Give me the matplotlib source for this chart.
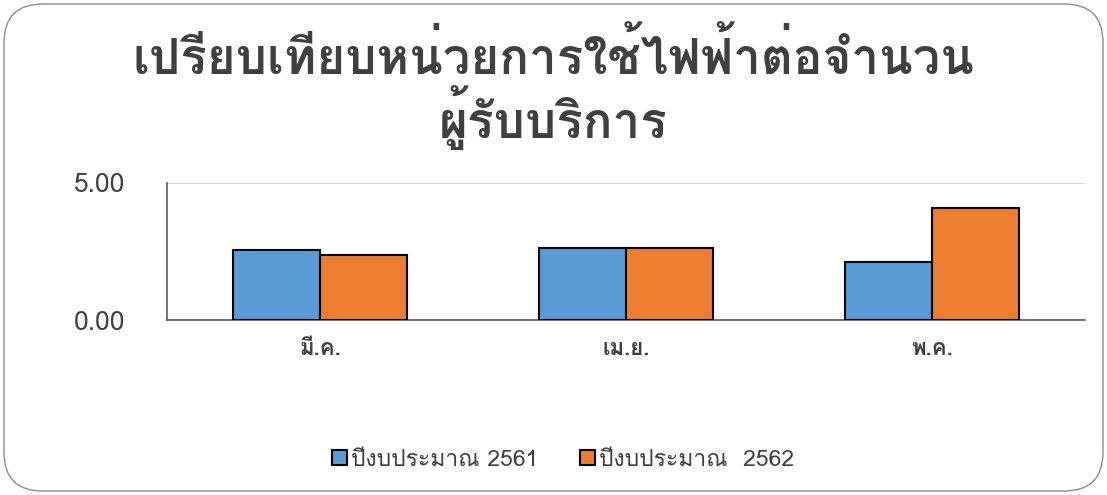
import matplotlib
matplotlib.use("Agg")
import matplotlib.pyplot as plt
from matplotlib import font_manager
from matplotlib.ft2font import FT2Font
from matplotlib.patches import FancyBboxPatch
import numpy as np

categories = ["มี.ค.", "เม.ย.", "พ.ค."]
series_names = ["ปีงบประมาณ 2561", "ปีงบประมาณ  2562"]
values_2561 = [2.55, 2.62, 2.12]
values_2562 = [2.37, 2.63, 4.10]
ytick_labels = ["0.00", "5.00"]
title = "เปรียบเทียบหน่วยการใช้ไฟฟ้าต่อจำนวน\nผู้รับบริการ"

# find a font with Thai glyphs
thai_fams = []
for f in font_manager.fontManager.ttflist:
    try:
        cm = FT2Font(f.fname).get_charmap()
        if 0x0E01 in cm and 0x0E33 in cm:
            thai_fams.append(f.name)
    except Exception:
        pass
thai_fams = list(dict.fromkeys(thai_fams))
fams = thai_fams + ["DejaVu Sans"]
plt.rcParams['font.family'] = fams

W, H = 1107, 495
fig = plt.figure(figsize=(W/100, H/100), dpi=100)

# rounded border
fig.patches.append(FancyBboxPatch((4/W, 4/H), 1 - 8/W, 1 - 8/H,
                                  boxstyle="round,pad=0,rounding_size=0.035",
                                  transform=fig.transFigure, fill=False,
                                  edgecolor="#8c8c8c", linewidth=1.0,
                                  mutation_aspect=W/H))

ax = fig.add_axes([167/W, 1 - 320/H, (1085-167)/W, (320-183)/H])
x = np.arange(len(categories))
bw = 0.285
c1, c2 = "#5b9bd5", "#ed7d31"
ax.bar(x - bw/2, values_2561, bw, color=c1, edgecolor="black", linewidth=1.5, label=series_names[0], zorder=3)
ax.bar(x + bw/2, values_2562, bw, color=c2, edgecolor="black", linewidth=1.5, label=series_names[1], zorder=3)
ax.set_xlim(-0.5, 2.5)
ax.set_ylim(0, 5)
ax.set_yticks([0, 5])
ax.set_yticklabels(ytick_labels, fontsize=19, color="#404040")
ax.set_xticks(x)
ax.set_xticklabels(categories, fontsize=16, color="#404040", fontweight="bold")
ax.tick_params(length=0, pad=14)
ax.tick_params(axis='y', pad=30)
ax.grid(axis='y', color="#d0d0d0", linewidth=1.2, zorder=0)
for s in ["top", "right"]:
    ax.spines[s].set_visible(False)
ax.spines["left"].set_color("#595959")
ax.spines["bottom"].set_color("#595959")
ax.spines["left"].set_linewidth(1.2)
ax.spines["bottom"].set_linewidth(1.2)

fig.text(0.5, 1 - 90/H, title, ha="center", va="center", fontsize=35.5,
         fontweight="bold", color="#404040", linespacing=1.05)

leg = fig.legend(loc="center", bbox_to_anchor=(563/W, 1 - 460/H), ncol=2, frameon=False,
                 fontsize=16.5, handlelength=0.65, handleheight=0.65, handletextpad=0.2,
                 columnspacing=1.8, labelcolor="#404040")

fig.savefig("out.png", dpi=100)
